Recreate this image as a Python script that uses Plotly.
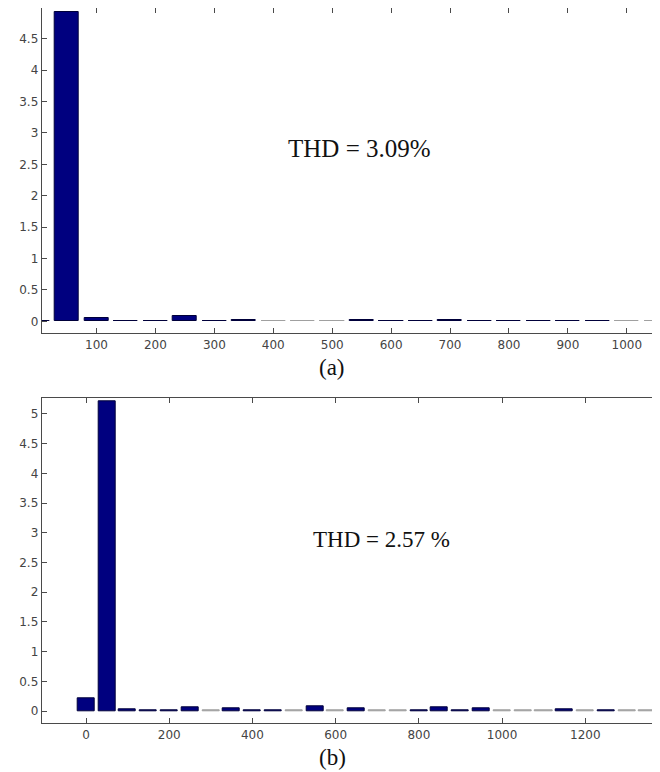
import plotly.graph_objects as go

# harmonic spectra, bars every 50 Hz
freq_a = [0, 50, 100, 150, 200, 250, 300, 350, 400, 450, 500, 550,
          600, 650, 700, 750, 800, 850, 900, 950, 1000, 1050]
mag_a = [0.01, 4.93, 0.06, 0.01, 0.01, 0.08, 0.01, 0.025, 0, 0, 0, 0.015,
         0.01, 0.01, 0.025, 0.01, 0.01, 0.01, 0.01, 0.01, 0, 0]

freq_b = [0, 50, 100, 150, 200, 250, 300, 350, 400, 450, 500, 550, 600, 650,
          700, 750, 800, 850, 900, 950, 1000, 1050, 1100, 1150, 1200, 1250, 1300, 1350]
mag_b = [0.22, 5.22, 0.03, 0.01, 0.01, 0.06, 0, 0.04, 0.01, 0.01, 0, 0.08, 0, 0.05,
         0, 0, 0.01, 0.07, 0.01, 0.05, 0, 0, 0, 0.03, 0, 0.02, 0, 0]

ticks_x_a = [100, 200, 300, 400, 500, 600, 700, 800, 900, 1000]
ticks_x_b = [0, 200, 400, 600, 800, 1000, 1200]
ticks_y_a = [0, 0.5, 1, 1.5, 2, 2.5, 3, 3.5, 4, 4.5]
ticks_y_b = [0, 0.5, 1, 1.5, 2, 2.5, 3, 3.5, 4, 4.5, 5]

thd_a = "THD = 3.09%"
thd_b = "THD = 2.57 %"

W, H = 660, 772
OFF = 8  # the page body has an 8px margin, so shift everything back by it
NAVY = '#00007f'
GRAY = '#a0a0a0'


def fx(p):
    return (p - OFF) / W


def fy(p):
    return 1 - (p - OFF) / H


def bar_trace(freq, mag, xa, ya):
    # zero bars are drawn by matlab as a thin grey edge, so give them a hairline
    shown = [m if m > 0 else 0.004 for m in mag]
    colors = [NAVY if m > 0 else GRAY for m in mag]
    lines = ['#00003a' if m > 0 else GRAY for m in mag]
    return go.Bar(x=freq, y=shown, width=41, xaxis=xa, yaxis=ya,
                  marker=dict(color=colors, line=dict(color=lines, width=1)),
                  showlegend=False, hoverinfo='skip')


def labels(vals):
    return [('%g' % v) for v in vals]


fig = go.Figure()
fig.add_trace(bar_trace(freq_a, mag_a, 'x', 'y'))
fig.add_trace(bar_trace(freq_b, mag_b, 'x2', 'y2'))

axis_style = dict(showline=True, mirror='ticks', linecolor='#4a4a4a', linewidth=1,
                  ticks='inside', ticklen=5, tickcolor='#4a4a4a', tickwidth=1,
                  showgrid=False, zeroline=False, automargin=False,
                  tickfont=dict(family='DejaVu Sans, Arial', size=12, color='#444444'))

fig.update_layout(
    width=W, height=H,
    margin=dict(l=0, r=0, t=0, b=0),
    paper_bgcolor='white', plot_bgcolor='white',
    bargap=0,
    xaxis=dict(domain=[fx(41.7), fx(661)], anchor='y', range=[7, 1058],
               tickvals=ticks_x_a, ticktext=labels(ticks_x_a), **axis_style),
    yaxis=dict(domain=[fy(333.3), 1.0], anchor='x', range=[-0.19, 4.99],
               tickvals=ticks_y_a, ticktext=labels(ticks_y_a), **axis_style),
    xaxis2=dict(domain=[fx(41.7), fx(661)], anchor='y2', range=[-106.5, 1382],
                tickvals=ticks_x_b, ticktext=labels(ticks_x_b), **axis_style),
    yaxis2=dict(domain=[fy(723.3), fy(398.3)], anchor='x2', range=[-0.207, 5.264],
                tickvals=ticks_y_b, ticktext=labels(ticks_y_b), **axis_style),
)

serif = 'Liberation Serif, Times New Roman, serif'
fig.add_annotation(x=547, y=2.75, xref='x', yref='y', text=thd_a, showarrow=False,
                   font=dict(family=serif, size=25, color='#111111'))
fig.add_annotation(x=711, y=2.88, xref='x2', yref='y2', text=thd_b, showarrow=False,
                   font=dict(family=serif, size=23, color='#111111'))
fig.add_annotation(x=fx(332), y=fy(367), xref='paper', yref='paper', text='(a)',
                   xanchor='center', yanchor='middle',
                   showarrow=False, font=dict(family=serif, size=23, color='#111111'))
fig.add_annotation(x=fx(332), y=fy(757), xref='paper', yref='paper', text='(b)',
                   xanchor='center', yanchor='middle',
                   showarrow=False, font=dict(family=serif, size=23, color='#111111'))

fig.write_html("out.html")
